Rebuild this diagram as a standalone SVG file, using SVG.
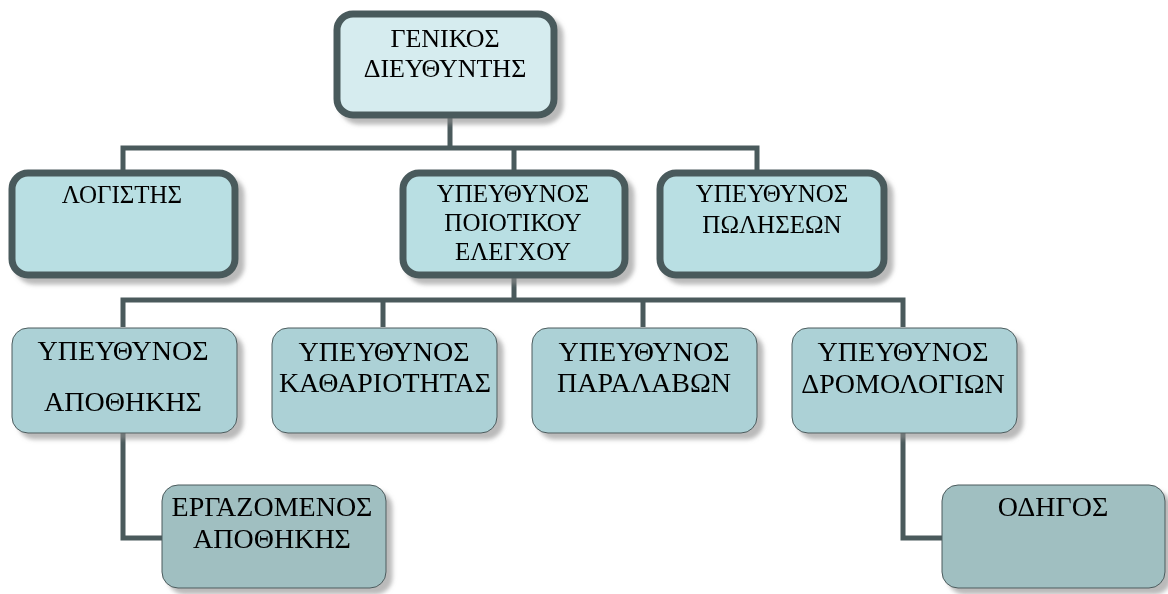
<svg xmlns="http://www.w3.org/2000/svg" width="1168" height="594" viewBox="0 0 1168 594">
  <defs>
    <filter id="shadow" x="-10%" y="-10%" width="130%" height="130%">
      <feGaussianBlur in="SourceAlpha" stdDeviation="2"/>
      <feOffset dx="6" dy="6" result="off"/>
      <feFlood flood-color="#8c8c8c" flood-opacity="0.6"/>
      <feComposite in2="off" operator="in" result="sh"/>
      <feMerge><feMergeNode in="sh"/><feMergeNode in="SourceGraphic"/></feMerge>
    </filter>
  </defs>
  <style>
    .lbl { font-family: "Liberation Serif", "Times New Roman", serif; font-size: 25px; fill: #000; text-anchor: middle; }
    .big { font-size: 26px; }
    .lg { font-size: 28px; }
    .top { fill: #d6ecef; stroke: #4a5a5c; stroke-width: 7; }
    .lvl2 { fill: #b9dfe3; stroke: #4a5a5c; stroke-width: 7; }
    .lvl3 { fill: #acd1d6; stroke: #4a5a5c; stroke-width: 1; }
    .lvl4 { fill: #a0bfc1; stroke: #4a5a5c; stroke-width: 1; }
    .conn { fill: none; stroke: #4a5a5c; stroke-width: 5; }
  </style>

  <!-- connectors -->
  <g id="connectors">
    <path class="conn" d="M450 117 V148 M123 170 V148 H757 V170 M514 148 V170"/>
    <path class="conn" d="M514 278 V300 M123 327 V300 H903 V327 M383 300 V327 M643 300 V327"/>
    <path class="conn" d="M123 433 V538 H162"/>
    <path class="conn" d="M903 433 V538 H942"/>
  </g>

  <g id="general-director" filter="url(#shadow)">
    <rect class="top" x="337" y="14" width="217" height="101" rx="16"/>
    <text class="lbl big" x="445" y="47">ΓΕΝΙΚΟΣ</text>
    <text class="lbl big" x="445" y="77">ΔΙΕΥΘΥΝΤΗΣ</text>
  </g>

  <g id="accountant" filter="url(#shadow)">
    <rect class="lvl2" x="12" y="173" width="223" height="102" rx="16"/>
    <text class="lbl" x="122" y="203">ΛΟΓΙΣΤΗΣ</text>
  </g>

  <g id="quality-control" filter="url(#shadow)">
    <rect class="lvl2" x="403" y="173" width="222" height="102" rx="16"/>
    <text class="lbl" x="513" y="202">ΥΠΕΥΘΥΝΟΣ</text>
    <text class="lbl" x="513" y="231">ΠΟΙΟΤΙΚΟΥ</text>
    <text class="lbl" x="513" y="260">ΕΛΕΓΧΟΥ</text>
  </g>

  <g id="sales" filter="url(#shadow)">
    <rect class="lvl2" x="660" y="173" width="224" height="102" rx="16"/>
    <text class="lbl" x="772" y="202">ΥΠΕΥΘΥΝΟΣ</text>
    <text class="lbl" x="772" y="233">ΠΩΛΗΣΕΩΝ</text>
  </g>

  <g id="warehouse" filter="url(#shadow)">
    <rect class="lvl3" x="12" y="328" width="225" height="105" rx="16"/>
    <text class="lbl lg" x="123" y="360">ΥΠΕΥΘΥΝΟΣ</text>
    <text class="lbl lg" x="123" y="411">ΑΠΟΘΗΚΗΣ</text>
  </g>

  <g id="cleaning" filter="url(#shadow)">
    <rect class="lvl3" x="272" y="328" width="225" height="105" rx="16"/>
    <text class="lbl lg" x="384" y="361">ΥΠΕΥΘΥΝΟΣ</text>
    <text class="lbl lg" x="385" y="392">ΚΑΘΑΡΙΟΤΗΤΑΣ</text>
  </g>

  <g id="receipts" filter="url(#shadow)">
    <rect class="lvl3" x="532" y="328" width="225" height="105" rx="16"/>
    <text class="lbl lg" x="644" y="361">ΥΠΕΥΘΥΝΟΣ</text>
    <text class="lbl lg" x="644" y="392">ΠΑΡΑΛΑΒΩΝ</text>
  </g>

  <g id="routing" filter="url(#shadow)">
    <rect class="lvl3" x="792" y="328" width="225" height="105" rx="16"/>
    <text class="lbl lg" x="903" y="361">ΥΠΕΥΘΥΝΟΣ</text>
    <text class="lbl lg" x="903" y="393">ΔΡΟΜΟΛΟΓΙΩΝ</text>
  </g>

  <g id="warehouse-worker" filter="url(#shadow)">
    <rect class="lvl4" x="162" y="485" width="224" height="103" rx="16"/>
    <text class="lbl lg" x="272" y="516">ΕΡΓΑΖΟΜΕΝΟΣ</text>
    <text class="lbl lg" x="272" y="548">ΑΠΟΘΗΚΗΣ</text>
  </g>

  <g id="driver" filter="url(#shadow)">
    <rect class="lvl4" x="942" y="485" width="223" height="103" rx="16"/>
    <text class="lbl lg" x="1053" y="516">ΟΔΗΓΟΣ</text>
  </g>
</svg>
